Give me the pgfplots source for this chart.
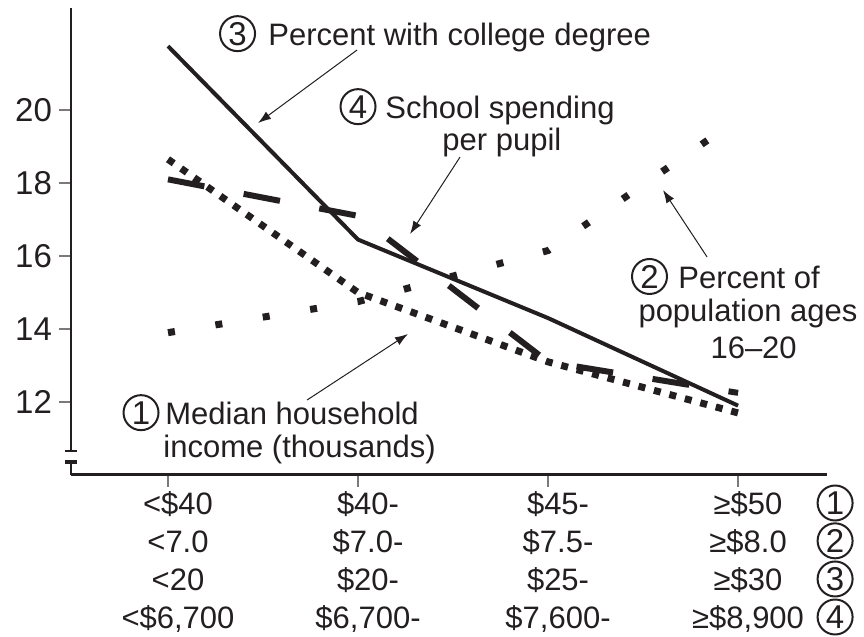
\documentclass[border=0pt]{standalone}
\usepackage{fontspec}
\setmainfont{Liberation Sans}
\usepackage{pgfplots}
\pgfplotsset{compat=1.18}
\usetikzlibrary{arrows.meta}
\definecolor{ink}{RGB}{35,31,32}
\newcommand{\cn}[1]{\tikz[baseline=(c.base)]\node[circle,draw=ink,line width=1pt,inner sep=0pt,minimum size=17.5pt,text=ink,font=\fontsize{16.5}{18}\selectfont](c){#1};}
\newsavebox\cOne
\newsavebox\cTwo
\newsavebox\cThree
\newsavebox\cFour
\begin{document}
\sbox\cOne{\cn{1}}%
\sbox\cTwo{\cn{2}}%
\sbox\cThree{\cn{3}}%
\sbox\cFour{\cn{4}}%
\begin{tikzpicture}
\path[use as bounding box] (-35.5pt,-81pt) rectangle (396.5pt,237.5pt);
\begin{axis}[
  scale only axis, width=378pt, height=233.5pt,
  xmin=-0.5105, xmax=3.468, ymin=10, ymax=22.795,
  axis lines=left,
  x axis line style={-, line width=1.5pt, draw=ink},
  y axis line style={draw=none},
  clip=false,
  tick align=outside,
  major tick length=6pt,
  tick style={ink!60, line width=0.6pt},
  ytick={12,14,16,18,20},
  yticklabel style={font=\fontsize{16.5}{18}\selectfont, text=ink, /pgf/number format/assume math mode=true},
  xtick={0,1,2,3},
  xticklabels={
    {<\$40\\<7.0\\<20\\<\$6,700},
    {\$40-\\\$7.0-\\\$20-\\\$6,700-},
    {\$45-\\\$7.5-\\\$25-\\\$7,600-},
    {≥\$50\\≥\$8.0\\≥\$30\\≥\$8,900}},
  xticklabel style={align=center, font=\fontsize{15.5}{19}\selectfont, text=ink, xshift=5pt, inner sep=2pt},
  extra x ticks={3.458},
  extra x tick labels={{\smash{\usebox\cOne}\vphantom{\$}\\\smash{\usebox\cTwo}\\\smash{\usebox\cThree}\\\smash{\usebox\cFour}}},
  extra x tick style={tick style={draw=none}},
  no markers,
]
% 2 Percent of population ages 16-20
\addplot[ink, line width=3.5pt, dash pattern=on 3.5pt off 20.5pt] coordinates {(0,13.9) (1,14.75) (2,16.15) (3,19.75)};
% 1 Median household income
\addplot[ink, line width=3.5pt, dash pattern=on 3.5pt off 4.5pt] coordinates {(0,18.65) (1,15.0) (2,13.1) (3,11.7)};
% 4 School spending per pupil
\addplot[ink, line width=3pt, dash pattern=on 18.5pt off 20pt] coordinates {(0,18.1) (1,17.1) (2,13.1) (3,12.25)};
% 3 Percent with college degree
\addplot[ink, line width=2pt] coordinates {(0,21.75) (1,16.45) (2,14.3) (3,11.9)};

% y axis with break
\draw[ink, line width=1pt] (axis cs:-0.5105,22.795) -- (axis cs:-0.5105,10.658);
\draw[ink, line width=1pt] ([xshift=-3pt]axis cs:-0.5105,10.658) -- ([xshift=3pt]axis cs:-0.5105,10.658);
\draw[ink, line width=2pt] ([xshift=-3pt]axis cs:-0.5105,10.356) -- ([xshift=3pt]axis cs:-0.5105,10.356);
\draw[ink, line width=1pt] (axis cs:-0.5105,10.356) -- (axis cs:-0.5105,10);

% arrows
\draw[ink, line width=0.5pt, -{Latex[length=6.5pt,width=4.5pt]}] (axis cs:0.995,21.644) -- (axis cs:0.474,19.644);
\draw[ink, line width=0.5pt, -{Latex[length=6.5pt,width=4.5pt]}] (axis cs:1.537,18.712) -- (axis cs:1.274,16.603);
\draw[ink, line width=0.5pt, -{Latex[length=6.5pt,width=4.5pt]}] (axis cs:2.837,15.973) -- (axis cs:2.605,17.808);
\draw[ink, line width=0.5pt, -{Latex[length=6.5pt,width=4.5pt]}] (axis cs:0.732,12.055) -- (axis cs:1.263,13.863);

% annotations
\begin{scope}[every node/.style={inner sep=0pt, text=ink, font=\fontsize{15.5}{17}\selectfont}]
\node[anchor=base] at (axis cs:0.366,21.781) {\usebox\cThree};
\node[anchor=base west] at (axis cs:0.526,21.781) {Percent with college degree};
\node[anchor=base] at (axis cs:1.0,19.781) {\usebox\cFour};
\node[anchor=base west] at (axis cs:1.142,19.781) {School spending};
\node[anchor=base west] at (axis cs:1.442,18.904) {per pupil};
\node[anchor=base] at (axis cs:2.534,15.123) {\usebox\cTwo};
\node[anchor=base west] at (axis cs:2.684,15.123) {Percent of};
\node[anchor=base west] at (axis cs:2.474,14.219) {population ages};
\node[anchor=base west] at (axis cs:2.853,13.205) {16–20};
\node[anchor=base] at (axis cs:-0.142,11.397) {\usebox\cOne};
\node[anchor=base west] at (axis cs:-0.016,11.397) {Median household};
\node[anchor=base west] at (axis cs:-0.026,10.466) {income (thousands)};
\end{scope}
\end{axis}
\end{tikzpicture}
\end{document}
